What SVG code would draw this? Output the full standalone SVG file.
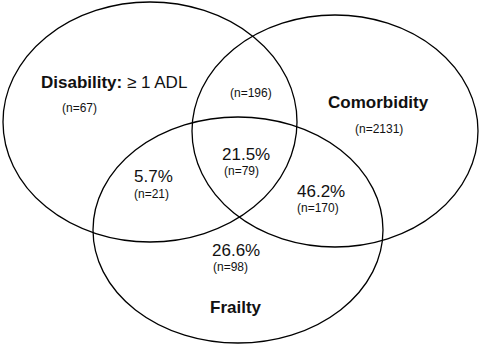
<svg xmlns="http://www.w3.org/2000/svg" width="480" height="345" viewBox="0 0 480 345">
<style>
.c{fill:none;stroke:#000;stroke-width:1.3}
text{font-family:"Liberation Sans",Arial,sans-serif;fill:#111}
.b{font-weight:bold;font-size:17px}
.p{font-size:17px}
.n{font-size:12px}
</style>
<rect width="480" height="345" fill="#fff"/>
<g id="connectors"></g>
<g id="disability">
<ellipse class="c" cx="150" cy="122" rx="147" ry="120"/>
<text x="41" y="88"><tspan class="b">Disability:</tspan><tspan class="p"> ≥ 1 ADL</tspan></text>
<text class="n" x="62" y="112">(n=67)</text>
</g>
<g id="comorbidity">
<ellipse class="c" cx="335" cy="131" rx="143" ry="116"/>
<text class="b" x="328" y="108">Comorbidity</text>
<text class="n" x="355" y="133">(n=2131)</text>
</g>
<g id="frailty">
<ellipse class="c" cx="238" cy="230" rx="145" ry="113"/>
<text class="b" x="210" y="313">Frailty</text>
</g>
<g id="regions">
<text class="n" x="230" y="97">(n=196)</text>
<text class="p" x="222" y="160">21.5%</text>
<text class="n" x="224" y="175">(n=79)</text>
<text class="p" x="134" y="182">5.7%</text>
<text class="n" x="134" y="198">(n=21)</text>
<text class="p" x="297" y="197">46.2%</text>
<text class="n" x="297" y="212">(n=170)</text>
<text class="p" x="212" y="256">26.6%</text>
<text class="n" x="213" y="271">(n=98)</text>
</g>
</svg>
